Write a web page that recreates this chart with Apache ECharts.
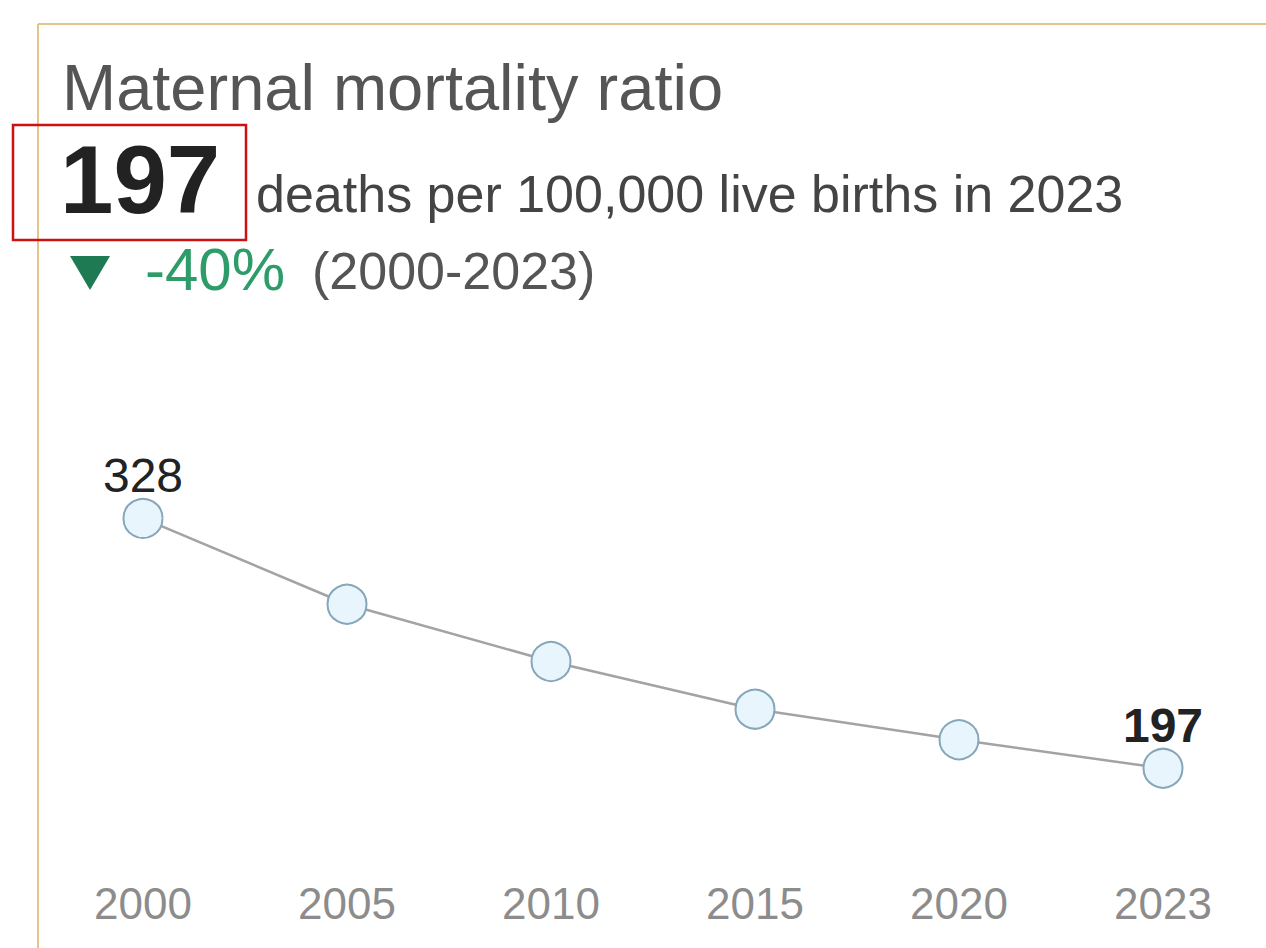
<!DOCTYPE html>
<html>
<head>
<meta charset="utf-8">
<script src="https://cdn.jsdelivr.net/npm/echarts@6/dist/echarts.min.js"></script>
<style>
html,body{margin:0;padding:0;background:#fff;}
#chart{width:1266px;height:948px;}
</style>
</head>
<body>
<div id="chart"></div>
<script>
const years = ['2000', '2005', '2010', '2015', '2020', '2023'];
const mmr = [328, 283, 253, 228, 212, 197];
const labelledYears = ['2000', '2023'];
const titleText = 'Maternal mortality ratio';
const headlineValue = '197';
const headlineUnit = 'deaths per 100,000 live births in 2023';
const changeText = '-40%';
const periodText = '(2000-2023)';

const FONT = '"Liberation Sans", Arial, sans-serif';
const chart = echarts.init(document.getElementById('chart'), null, {renderer: 'svg'});

const seriesData = mmr.map((v, i) => {
  const show = labelledYears.indexOf(years[i]) >= 0;
  return {
    value: v,
    label: {
      show: show,
      fontWeight: years[i] === '2023' ? 'bold' : 'normal'
    }
  };
});

chart.setOption({
  backgroundColor: '#ffffff',
  animation: false,
  grid: {left: 41, right: 1, top: 381, bottom: 90},
  xAxis: {
    type: 'category',
    data: years,
    boundaryGap: true,
    axisLine: {show: false},
    axisTick: {show: false},
    axisLabel: {color: '#8c8c8c', fontSize: 44, fontFamily: FONT, margin: 23}
  },
  yAxis: {
    type: 'value',
    min: 150,
    max: 400,
    show: false,
    splitLine: {show: false}
  },
  series: [{
    type: 'line',
    data: seriesData,
    symbol: 'circle',
    symbolSize: 39,
    lineStyle: {color: '#a3a3a3', width: 2.5},
    itemStyle: {color: '#e8f5fc', borderColor: '#86a6ba', borderWidth: 2},
    label: {
      position: 'top',
      distance: -2,
      color: '#222222',
      fontSize: 48,
      fontFamily: FONT,
      formatter: '{c}'
    },
    z: 3
  }],
  graphic: [
    {type: 'line', shape: {x1: 38, y1: 24, x2: 1266, y2: 24}, style: {stroke: '#e2c58a', lineWidth: 2}},
    {type: 'line', shape: {x1: 38, y1: 24, x2: 38, y2: 948}, style: {stroke: '#e2c58a', lineWidth: 2}},
    {type: 'text', x: 62, y: 87, style: {text: titleText, font: '65px ' + FONT, fill: '#555555', textVerticalAlign: 'middle'}},
    {type: 'text', x: 60, y: 179, style: {text: headlineValue, font: 'bold 96px ' + FONT, fill: '#222222', textVerticalAlign: 'middle'}},
    {type: 'text', x: 256, y: 194, style: {text: headlineUnit, font: '52px ' + FONT, fill: '#444444', textVerticalAlign: 'middle'}},
    {type: 'polygon', shape: {points: [[70, 256], [110, 256], [90, 290]]}, style: {fill: '#1e7a52'}},
    {type: 'text', x: 145, y: 269, style: {text: changeText, font: '60px ' + FONT, fill: '#2e9c69', textVerticalAlign: 'middle'}},
    {type: 'text', x: 312, y: 271, style: {text: periodText, font: '52px ' + FONT, fill: '#555555', textVerticalAlign: 'middle'}},
    {type: 'rect', shape: {x: 13, y: 125, width: 233, height: 115}, style: {fill: 'none', stroke: '#cc1111', lineWidth: 2.5}, z: 10}
  ]
});
</script>
</body>
</html>
